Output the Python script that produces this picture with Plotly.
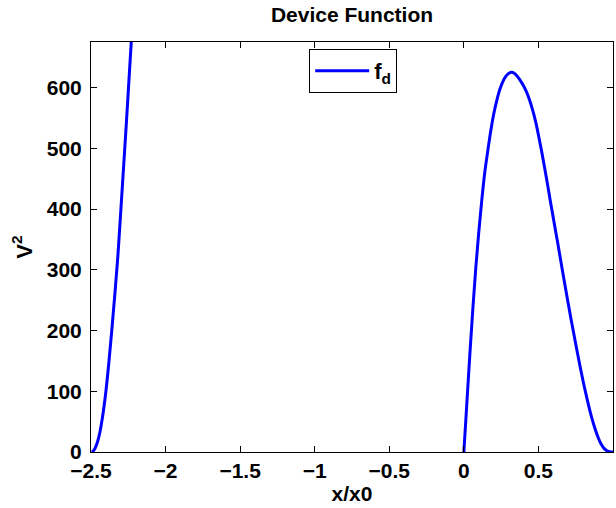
import plotly.graph_objects as go

# Left branch of f_d (x/x0, V^2)
left_x = [-2.495, -2.48, -2.46, -2.44, -2.42, -2.40, -2.38, -2.36, -2.34, -2.32,
          -2.30, -2.28, -2.26, -2.24, -2.22, -2.20]
left_y = [0, 3, 14, 33, 62, 100, 148, 202, 260, 322,
          398, 475, 553, 635, 715, 795]

# Right branch of f_d
right_x = [0, 0.02, 0.04, 0.06, 0.08, 0.10, 0.12, 0.14, 0.16, 0.18, 0.20,
           0.22, 0.24, 0.26, 0.28, 0.30, 0.32, 0.34, 0.36, 0.38, 0.40,
           0.42, 0.44, 0.46, 0.48, 0.50, 0.52, 0.54, 0.56, 0.58, 0.60,
           0.62, 0.64, 0.66, 0.68, 0.70, 0.72, 0.74, 0.76, 0.78, 0.80,
           0.82, 0.84, 0.86, 0.88, 0.90, 0.92, 0.94, 0.96, 0.98, 1.0]
right_y = [0, 80, 160, 235, 303, 362, 414, 460, 495, 528, 556,
           578, 596, 609, 618, 623, 625, 623, 618, 611, 603,
           593, 580, 564, 545, 522, 497, 470, 442, 413, 385,
           357, 329, 300, 272, 244, 217, 191, 165, 140, 116,
           94, 73, 54, 38, 24, 13, 6, 2, 0.4, 0]

x_ticks = [-2.5, -2, -1.5, -1, -0.5, 0, 0.5, 1]
y_ticks = [0, 100, 200, 300, 400, 500, 600]

xs = left_x + [None] + right_x
ys = left_y + [None] + right_y

fig = go.Figure()
fig.add_trace(go.Scatter(
    x=xs, y=ys, mode="lines", name="f<sub>d</sub>",
    line=dict(color="rgb(0,0,255)", width=3, shape="spline", smoothing=1),
    connectgaps=False,
))

font_family = "Liberation Sans, Arial, sans-serif"
fig.update_layout(
    width=616, height=508,
    margin=dict(l=91, r=3, t=42, b=56),
    paper_bgcolor="white", plot_bgcolor="white",
    font=dict(family=font_family, size=21, color="black", weight="bold"),
    title=dict(text="Device Function", x=0.5, xref="paper", xanchor="center",
               y=1 - 15 / 508, yref="container", yanchor="middle",
               font=dict(size=21, weight="bold")),
    showlegend=True,
    legend=dict(x=0.418, y=0.983, xanchor="left", yanchor="top",
                bordercolor="black", borderwidth=1, bgcolor="white",
                font=dict(size=22, weight="bold"), itemwidth=54),
)
fig.update_xaxes(
    range=[-2.5, 1], tickvals=x_ticks, ticks="inside", ticklen=6, tickcolor="black",
    showline=True, linecolor="black", linewidth=1, mirror="allticks",
    showgrid=False, zeroline=False,
    title=dict(text="x/x0", standoff=2, font=dict(size=21, weight="bold")),
)
fig.update_yaxes(
    range=[0, 675], tickvals=y_ticks, ticks="inside", ticklen=6, tickcolor="black",
    showline=True, linecolor="black", linewidth=1, mirror="allticks",
    showgrid=False, zeroline=False, ticklabelstandoff=4,
    title=dict(text="V<sup>2</sup>", standoff=8, font=dict(size=22, weight="bold")),
)

fig.write_html("out.html")
